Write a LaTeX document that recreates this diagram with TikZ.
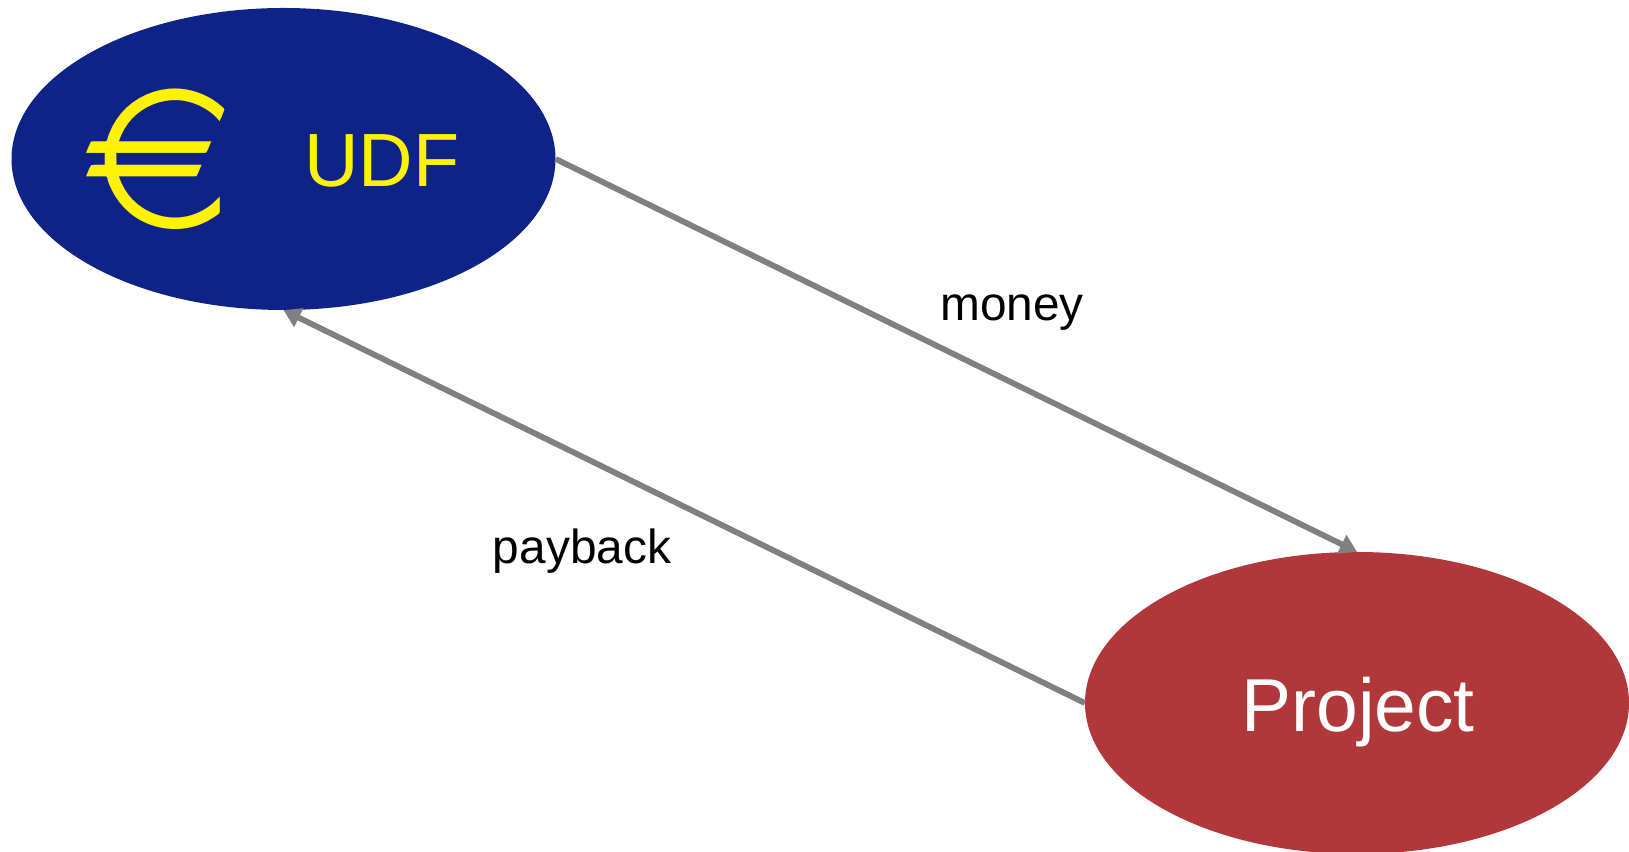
\documentclass[tikz,border=0pt]{standalone}
\usepackage{fontspec}
\usepackage{eurosym}
\setmainfont{Liberation Sans}
\usetikzlibrary{positioning,shapes.geometric,arrows.meta}
\definecolor{udfblue}{RGB}{15,34,136}
\definecolor{projectred}{RGB}{177,56,58}
\definecolor{flowgray}{RGB}{128,128,128}

\begin{document}
\begin{tikzpicture}[
    x=1pt, y=1pt,
    party/.style={ellipse, minimum width=544pt, minimum height=302pt, inner sep=0pt},
    flow/.style={-{Triangle[length=17pt, width=20pt]}, line width=5.8pt, flowgray},
    flowlabel/.style={font=\fontsize{47.8}{50}\selectfont, text=black, inner sep=0pt}
]
    \useasboundingbox (0,0) rectangle (1629,851);
    % Parties
    \node [party, fill=udfblue] (udf) at (283.5,692) {};
    \node [party, fill=projectred, inner sep=0pt] (project) at (1357,148) {};
    \node [text=white, font=\fontsize{75}{78}\selectfont, inner sep=0pt] (projecttext) at (1358,139) {Project};
    \node [text=yellow, font=\fontsize{197}{197}\selectfont, inner sep=0pt] (euro) at (158.5,691) {\officialeuro};
    \node [text=yellow, font=\fontsize{75.5}{78}\selectfont, inner sep=0pt] (udftext) at (382,690.5) {UDF};

    % Flows
    \draw [flow] (udf.east) -- (project.north);
    \draw [flow] (project.west) -- (udf.south);
    \node [flowlabel] (money) at (1012,538) {money};
    \node [flowlabel] (payback) at (582,300) {payback};
\end{tikzpicture}
\end{document}
